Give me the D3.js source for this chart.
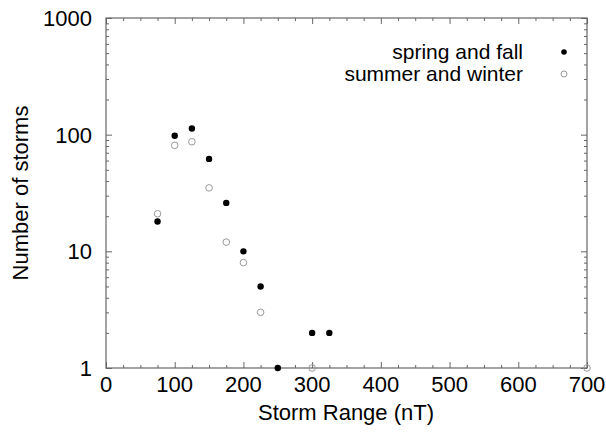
<!DOCTYPE html>
<html>
<head>
<meta charset="utf-8">
<script src="https://cdn.jsdelivr.net/npm/d3@7"></script>
<style>
  html, body { margin: 0; padding: 0; background: #fff; }
  svg { display: block; font-family: "Liberation Sans", Arial, sans-serif; }
</style>
</head>
<body>
<div id="chart"></div>
<script>
// storm range (nT) and counts
const springFallX = [75, 100, 125, 150, 175, 200, 225, 250, 300, 325];
const springFallN = [18, 98, 113, 62, 26, 10, 5, 1, 2, 2];
const summerWinterX = [75, 100, 125, 150, 175, 200, 225, 300, 700];
const summerWinterN = [21, 81, 87, 35, 12, 8, 3, 1, 1];

const xTicks = [0, 100, 200, 300, 400, 500, 600, 700];
const yTicks = [1, 10, 100, 1000];
const legendNames = ['spring and fall', 'summer and winter'];

const W = 606, H = 439;
const M = { top: 18, right: 19, bottom: 71, left: 106 };
const AXIS = '#666';
const FS = '22px';

const svg = d3.select('#chart').append('svg')
  .attr('width', W)
  .attr('height', H);

const x = d3.scaleLinear().domain([0, 700]).range([M.left, W - M.right]);
const y = d3.scaleLog().domain([1, 1000]).range([H - M.bottom, M.top]);

const xMinor = d3.range(0, 701, 25).filter(v => v % 100 !== 0);
const yMinor = [];
[1, 10, 100].forEach(d => { for (let k = 2; k <= 9; k++) yMinor.push(d * k); });

function styleAxis(g) {
  g.select('.domain').remove();
  g.selectAll('.tick line').attr('stroke', AXIS).attr('stroke-width', 1);
}

// plot box edges
const yB = H - M.bottom, yT = M.top, xL = M.left, xR = W - M.right;

// ticks pointing into the plot on all four sides
[[d3.axisBottom, yB], [d3.axisTop, yT]].forEach(([ax, ty]) => {
  svg.append('g').attr('transform', `translate(0,${ty})`)
    .call(ax(x).tickValues(xMinor).tickSize(-3).tickFormat(''))
    .call(styleAxis);
  svg.append('g').attr('transform', `translate(0,${ty})`)
    .call(ax(x).tickValues(xTicks).tickSize(-6).tickFormat(''))
    .call(styleAxis);
});
[[d3.axisLeft, xL], [d3.axisRight, xR]].forEach(([ax, tx]) => {
  svg.append('g').attr('transform', `translate(${tx},0)`)
    .call(ax(y).tickValues(yMinor).tickSize(-3).tickFormat(''))
    .call(styleAxis);
  svg.append('g').attr('transform', `translate(${tx},0)`)
    .call(ax(y).tickValues(yTicks).tickSize(-6).tickFormat(''))
    .call(styleAxis);
});

// frame
svg.append('rect')
  .attr('x', xL).attr('y', yT)
  .attr('width', xR - xL).attr('height', yB - yT)
  .attr('fill', 'none').attr('stroke', AXIS).attr('stroke-width', 1.2);

// tick labels
svg.append('g').selectAll('text').data(xTicks).join('text')
  .attr('x', d => x(d))
  .attr('y', yB + 24)
  .attr('text-anchor', 'middle')
  .style('font-size', FS)
  .text(d => d);

svg.append('g').selectAll('text').data(yTicks).join('text')
  .attr('x', xL - 14)
  .attr('y', d => y(d) + 8)
  .attr('text-anchor', 'end')
  .style('font-size', FS)
  .text(d => d);

// axis titles
svg.append('text')
  .attr('x', 346)
  .attr('y', 420)
  .attr('text-anchor', 'middle')
  .style('font-size', FS)
  .text('Storm Range (nT)');

svg.append('text')
  .attr('transform', `translate(28,${(yT + yB) / 2}) rotate(-90)`)
  .attr('text-anchor', 'middle')
  .style('font-size', FS)
  .text('Number of storms');

// points
const open = summerWinterX.map((v, i) => ({ x: v, n: summerWinterN[i] }));
const filled = springFallX.map((v, i) => ({ x: v, n: springFallN[i] }));

svg.append('g').selectAll('circle').data(open).join('circle')
  .attr('cx', d => x(d.x))
  .attr('cy', d => y(d.n))
  .attr('r', 3.3)
  .attr('fill', 'none')
  .attr('stroke', '#999')
  .attr('stroke-width', 1);

svg.append('g').selectAll('circle').data(filled).join('circle')
  .attr('cx', d => x(d.x))
  .attr('cy', d => y(d.n))
  .attr('r', 3.2)
  .attr('fill', '#000');

// legend (lines sit tight, as in the original)
const legend = svg.append('g');
legendNames.forEach((name, i) => {
  const ly = 51 + i * 22;
  legend.append('text')
    .attr('x', 523)
    .attr('y', ly + 8)
    .attr('text-anchor', 'end')
    .style('font-size', '21px')
    .text(name);
  const c = legend.append('circle').attr('cx', 564).attr('cy', ly + 1);
  if (i === 0) c.attr('r', 2.8).attr('fill', '#000');
  else c.attr('r', 3).attr('fill', 'none').attr('stroke', '#999');
});
</script>
</body>
</html>
